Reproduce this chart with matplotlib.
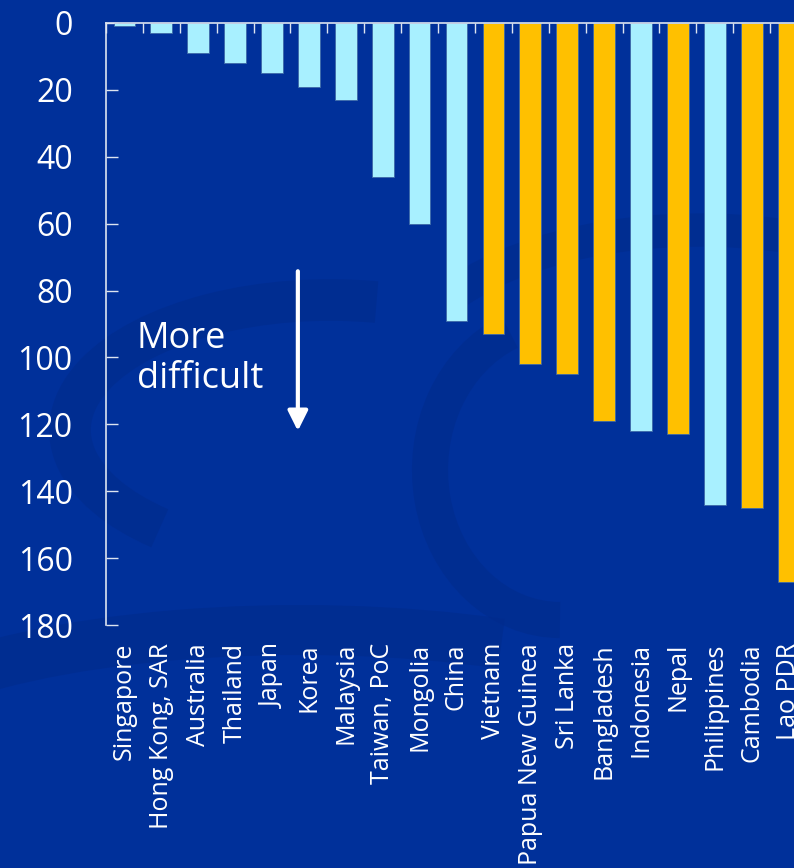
import numpy as np
import matplotlib.pyplot as plt
from matplotlib.patches import Arc, FancyArrowPatch

countries = ["Singapore", "Hong Kong, SAR", "Australia", "Thailand", "Japan",
             "Korea", "Malaysia", "Taiwan, PoC", "Mongolia", "China",
             "Vietnam", "Papua New Guinea", "Sri Lanka", "Bangladesh",
             "Indonesia", "Nepal", "Philippines", "Cambodia", "Lao PDR"]
ranks = [1, 3, 9, 12, 15, 19, 23, 46, 60, 89,
         93, 102, 105, 119, 122, 123, 144, 145, 167]
group = ["a", "a", "a", "a", "a", "a", "a", "a", "a", "a",
         "b", "b", "b", "b", "a", "b", "a", "b", "b"]
y_ticks = [0, 20, 40, 60, 80, 100, 120, 140, 160, 180]

BG = '#00309A'
SWIRL = '#002B8C'
COL_A = '#A8F0FF'
COL_B = '#FFC000'
W, H = 794, 868

plt.rcParams['font.family'] = ['Open Sans', 'DejaVu Sans']

fig = plt.figure(figsize=(W / 100, H / 100), dpi=100, facecolor=BG)

# background swirl (decoration, figure pixel coords)
bg = fig.add_axes([0, 0, 1, 1], zorder=0)
bg.set_xlim(0, W)
bg.set_ylim(H, 0)
bg.axis('off')
bg.set_facecolor(BG)
for (cx, cy, w, h, t1, t2, lw) in [
        (330, 430, 520, 260, 150, 290, 30),
        (560, 470, 260, 300, 90, 250, 26),
        (300, 760, 900, 260, 190, 330, 36),
        (700, 380, 600, 300, 200, 300, 24)]:
    bg.add_patch(Arc((cx, cy), w, h, theta1=t1, theta2=t2,
                     color=SWIRL, lw=lw, alpha=0.6))

ax = fig.add_axes([106 / W, 1 - 625 / H, 701 / W, 602 / H], zorder=1)
ax.set_facecolor('none')

x = np.arange(len(countries))
colors = [COL_A if g == "a" else COL_B for g in group]
ax.bar(x, ranks, width=0.59, color=colors, edgecolor='#3d68a8', lw=0.6,
       zorder=2)

ax.set_xlim(-0.5, len(countries) - 0.5)
ax.set_ylim(180, 0)
ax.set_yticks(y_ticks)
ax.set_xticks(x)
ax.set_xticklabels(countries, rotation=90, ha='center', va='top',
                   fontsize=18, color='white')
ax.set_xticks(np.arange(-0.5, len(countries), 1.0), minor=True)

ax.tick_params(axis='x', which='major', length=0, pad=13)
ax.tick_params(axis='x', which='minor', top=True, bottom=False,
               direction='in', length=7, width=1, color='#dde4f0')
ax.tick_params(axis='y', direction='in', length=8.5, width=1,
               color='#dde4f0', labelcolor='white', labelsize=23, pad=24)

for s in ('bottom', 'right'):
    ax.spines[s].set_visible(False)
for s in ('left', 'top'):
    ax.spines[s].set_color('#dde4f0')
    ax.spines[s].set_linewidth(1.2)

ax.text(0.34, 100.5, "More\ndifficult", fontsize=26, color='white',
        ha='left', va='center', linespacing=1.12)
ax.add_patch(FancyArrowPatch((4.7, 73.4), (4.7, 122.8),
                             arrowstyle='-|>,head_length=0.6,head_width=0.3',
                             mutation_scale=20, color='white', lw=3,
                             zorder=3))

fig.savefig("out.png", dpi=100, facecolor=BG)
